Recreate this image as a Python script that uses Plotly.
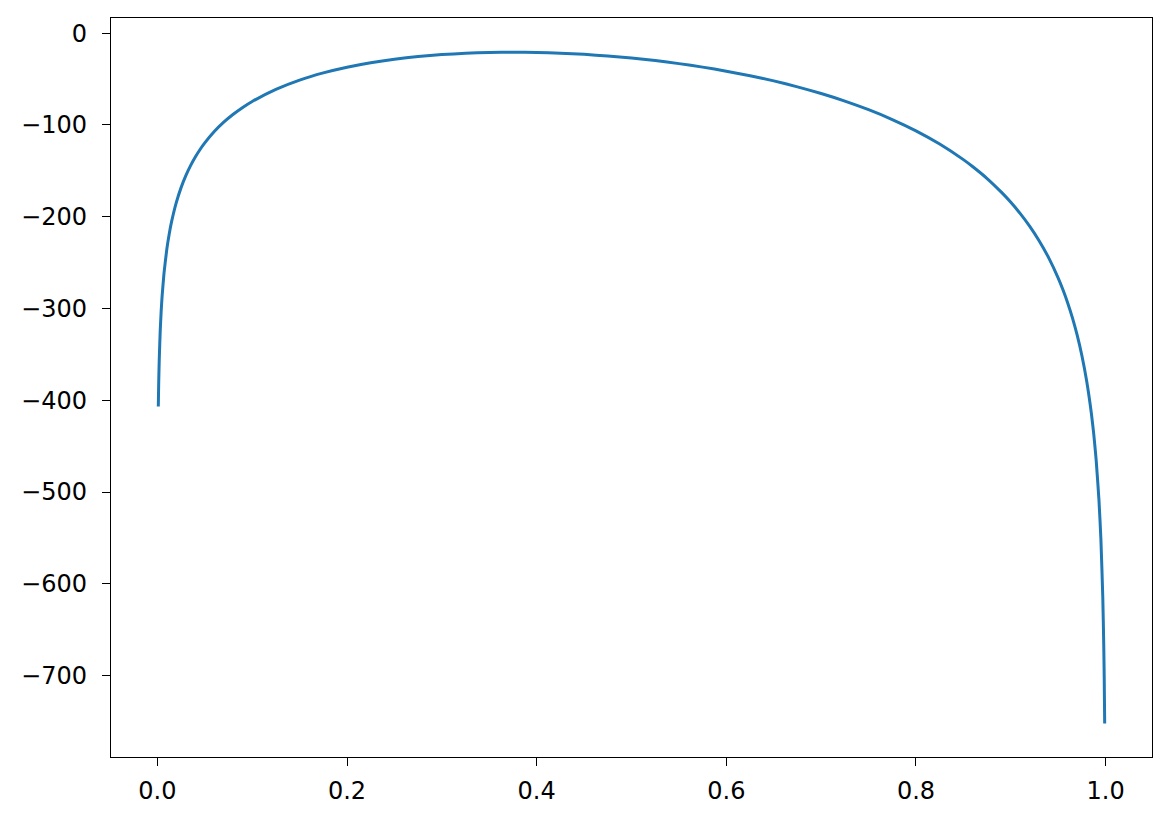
import plotly.graph_objects as go

# values
x_vals = [0.001, 0.0012, 0.0015, 0.002, 0.003, 0.004, 0.005, 0.007, 0.01, 0.0125, 0.015,
          0.02, 0.025, 0.03, 0.035, 0.04, 0.045, 0.05, 0.06, 0.07, 0.08, 0.09, 0.10, 0.125,
          0.15, 0.175, 0.2, 0.225, 0.25, 0.275, 0.3, 0.325, 0.35, 0.375, 0.4, 0.425, 0.45,
          0.475, 0.5, 0.525, 0.55, 0.575, 0.6, 0.625, 0.65, 0.675, 0.7, 0.725, 0.75, 0.775,
          0.8, 0.825, 0.85, 0.86, 0.875, 0.89, 0.9, 0.91, 0.92, 0.93, 0.94, 0.95, 0.955,
          0.96, 0.965, 0.97, 0.975, 0.98, 0.985, 0.9875, 0.99, 0.993, 0.995, 0.997, 0.998,
          0.9985, 0.999]
y_vals = [-406.7, -393.1, -376.4, -354.9, -324.6, -303.1, -286.5, -261.5, -235.1, -218.7,
          -205.4, -184.4, -168.3, -155.3, -144.4, -135.0, -126.8, -119.6, -107.2, -97.0,
          -88.4, -80.9, -74.4, -61.2, -51.1, -43.3, -37.1, -32.2, -28.4, -25.5, -23.4, -21.9,
          -21.1, -20.8, -21.1, -21.9, -23.1, -24.9, -27.1, -29.9, -33.2, -37.0, -41.4, -46.4,
          -52.0, -58.5, -65.8, -74.0, -83.4, -94.1, -106.4, -120.8, -137.8, -145.6, -158.4,
          -173.2, -184.2, -196.6, -210.5, -226.4, -244.8, -266.8, -279.6, -293.9, -310.2,
          -329.1, -351.5, -379.0, -414.6, -437.2, -464.9, -509.3, -551.2, -614.9, -665.5,
          -701.4, -752.1]
x_ticks = [0.0, 0.2, 0.4, 0.6, 0.8, 1.0]
y_ticks = [0, -100, -200, -300, -400, -500, -600, -700]

fig = go.Figure(go.Scatter(x=x_vals, y=y_vals, mode="lines",
                           line=dict(color="#1f77b4", width=3, shape="spline", smoothing=0.5),
                           showlegend=False))

axis_common = dict(showgrid=False, zeroline=False, showline=True, linecolor="black",
                   linewidth=1.4, mirror=True, ticks="outside", ticklen=8, tickwidth=1.4,
                   tickcolor="black", tickfont=dict(family="DejaVu Sans", size=24, color="black"))

fig.update_xaxes(range=[-0.0489, 1.0489], tickvals=x_ticks, ticklabelstandoff=4,
                 ticktext=[f"{v:.1f}" for v in x_ticks], **axis_common)
fig.update_yaxes(range=[-788.6, 16.5], tickvals=y_ticks, ticklabelstandoff=10,
                 ticktext=[("−" + str(abs(v))) if v < 0 else str(v) for v in y_ticks], **axis_common)

fig.update_layout(width=1171, height=822, plot_bgcolor="white", paper_bgcolor="white",
                  margin=dict(l=103, r=27, t=10, b=73))

fig.write_html("out.html")
